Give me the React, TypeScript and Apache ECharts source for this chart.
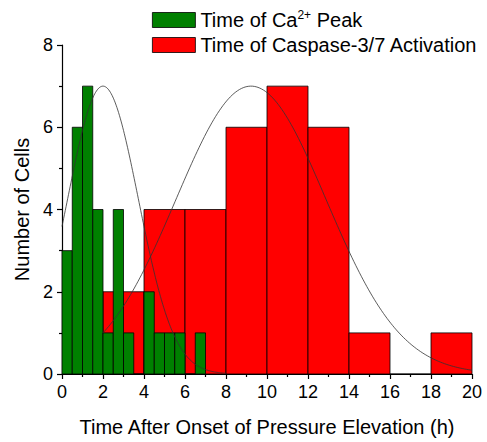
import React, { useEffect, useRef } from "react";
import * as echarts from "echarts";

// Histogram bins: [start, end] in hours and counts
const caBinStarts = [0, 0.5, 1, 1.5, 2, 2.5, 3, 3.5, 4, 4.5, 5, 5.5, 6, 6.5];
const caBinWidth = 0.5;
const caCounts = [3, 6, 7, 4, 1, 4, 1, 0, 2, 1, 1, 1, 0, 1];

const caspBinStarts = [0, 2, 4, 6, 8, 10, 12, 14, 16, 18];
const caspBinWidth = 2;
const caspCounts = [0, 2, 4, 4, 6, 7, 6, 1, 0, 1];

// Normal fit curve parameters
const caFit = { peak: 7, mean: 2.0, sd: 1.73, from: 0, to: 8 };
const caspFit = { peak: 7, mean: 9.22, sd: 3.66, from: 2, to: 20 };

const xTicks = [0, 2, 4, 6, 8, 10, 12, 14, 16, 18, 20];
const yTicks = [0, 2, 4, 6, 8];

const FONT = "'Liberation Sans', Arial, sans-serif";

function fitCurve(f: { peak: number; mean: number; sd: number; from: number; to: number }) {
  const pts: number[][] = [];
  const n = 200;
  for (let i = 0; i <= n; i++) {
    const x = f.from + ((f.to - f.from) * i) / n;
    pts.push([x, f.peak * Math.exp(-((x - f.mean) ** 2) / (2 * f.sd * f.sd))]);
  }
  return pts;
}

function barSeries(name: string, starts: number[], width: number, counts: number[], color: string, z: number) {
  return {
    name,
    type: "custom",
    data: starts.map((s, i) => [s, s + width, counts[i]]),
    itemStyle: { color, borderColor: "#000", borderWidth: 0.8 },
    encode: { x: [0, 1], y: 2 },
    renderItem: (params: any, api: any) => {
      const x0 = api.value(0);
      const x1 = api.value(1);
      const v = api.value(2);
      const p0 = api.coord([x0, v]);
      const p1 = api.coord([x1, 0]);
      return {
        type: "rect",
        shape: { x: p0[0], y: p0[1], width: p1[0] - p0[0], height: p1[1] - p0[1] },
        style: { fill: color, stroke: "#000", lineWidth: 0.8 },
      };
    },
    z,
  };
}

export default function App() {
  const ref = useRef<HTMLDivElement>(null);
  useEffect(() => {
    if (!ref.current) return;
    document.body.style.margin = "0";
    const chart = echarts.init(ref.current, undefined, { renderer: "svg" });
    const caName = "Time of Ca2+ Peak";
    const caspName = "Time of Caspase-3/7 Activation";
    chart.setOption({
      animation: false,
      textStyle: { fontFamily: FONT },
      grid: { left: 62, right: 15, top: 45, bottom: 67 },
      legend: {
        orient: "vertical",
        left: 147,
        top: 4,
        itemWidth: 43,
        itemHeight: 15,
        itemGap: 5,
        data: [
          { name: caName, icon: "rect", itemStyle: { color: "#008000", borderColor: "#000", borderWidth: 0.8 } },
          { name: caspName, icon: "rect", itemStyle: { color: "#ff0000", borderColor: "#000", borderWidth: 0.8 } },
        ],
        textStyle: {
          fontFamily: FONT,
          fontSize: 20,
          color: "#000",
          rich: {
            a: { fontFamily: FONT, fontSize: 20, color: "#000" },
            sup: { fontFamily: FONT, fontSize: 12, color: "#000", verticalAlign: "top", padding: [0, 0, 10, 0] },
          },
        },
        formatter: (n: string) =>
          n === caName ? "{a|Time of Ca}{sup|2+}{a| Peak}" : "{a|" + n + "}",
      },
      xAxis: {
        type: "value",
        min: xTicks[0],
        max: xTicks[xTicks.length - 1],
        interval: 2,
        name: "Time After Onset of Pressure Elevation (h)",
        nameLocation: "middle",
        nameGap: 43,
        nameTextStyle: { fontFamily: FONT, fontSize: 20, color: "#000" },
        axisLine: { lineStyle: { color: "#000", width: 1.2 } },
        axisTick: { show: true, inside: false, length: 5, lineStyle: { color: "#000", width: 1.2 } },
        minorTick: { show: true, splitNumber: 2, length: 3, lineStyle: { color: "#000", width: 1.2 } },
        axisLabel: { fontFamily: FONT, fontSize: 18, color: "#000", margin: 9 },
        splitLine: { show: false },
      },
      yAxis: {
        type: "value",
        min: yTicks[0],
        max: yTicks[yTicks.length - 1],
        interval: 2,
        name: "Number of Cells",
        nameLocation: "middle",
        nameGap: 28,
        nameTextStyle: { fontFamily: FONT, fontSize: 20, color: "#000" },
        axisLine: { show: true, lineStyle: { color: "#000", width: 1.2 } },
        axisTick: { show: true, inside: false, length: 5, lineStyle: { color: "#000", width: 1.2 } },
        minorTick: { show: true, splitNumber: 2, length: 3, lineStyle: { color: "#000", width: 1.2 } },
        axisLabel: { fontFamily: FONT, fontSize: 18, color: "#000", margin: 9 },
        splitLine: { show: false },
      },
      series: [
        barSeries(caspName, caspBinStarts, caspBinWidth, caspCounts, "#ff0000", 2),
        barSeries(caName, caBinStarts, caBinWidth, caCounts, "#008000", 3),
        {
          name: "caFit",
          type: "line",
          data: fitCurve(caFit),
          showSymbol: false,
          lineStyle: { color: "#333", width: 0.8 },
          z: 5,
          silent: true,
        },
        {
          name: "caspFit",
          type: "line",
          data: fitCurve(caspFit),
          showSymbol: false,
          lineStyle: { color: "#333", width: 0.8 },
          z: 5,
          silent: true,
        },
      ],
    });
    return () => chart.dispose();
  }, []);
  return <div ref={ref} style={{ width: 487, height: 442 }} />;
}
